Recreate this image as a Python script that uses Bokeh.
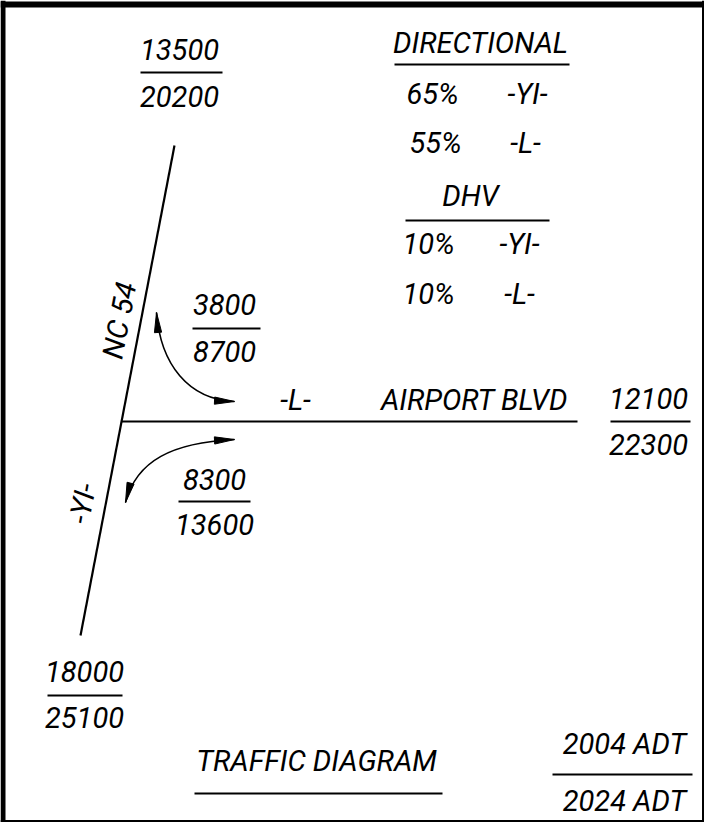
import numpy as np
from bokeh.plotting import figure
from bokeh.models import Range1d
from bokeh.core.properties import value
from bokeh.embed import file_html
from bokeh.resources import INLINE

# ---------------- data ----------------
legs = ["NC 54 north", "NC 54 south", "AIRPORT BLVD east", "left turn", "right turn"]
adt_2004 = [13500, 18000, 12100, 3800, 8300]
adt_2024 = [20200, 25100, 22300, 8700, 13600]

main_road = "NC 54"
main_tag = "-YI-"
side_road = "AIRPORT BLVD"
side_tag = "-L-"

dir_header = "DIRECTIONAL"
dir_pct = [65, 55]
dir_tags = ["-YI-", "-L-"]
dhv_header = "DHV"
dhv_pct = [10, 10]
dhv_tags = ["-YI-", "-L-"]

title = "TRAFFIC DIAGRAM"
key_labels = ["2004 ADT", "2024 ADT"]

# ---------------- layout (screen px of the page, text y = visual centre) ----------------
# per leg: centre x, centre y upper, centre y lower, rule y, rule x0, rule x1
leg_pos = [
    (187, 57, 104, 80, 148, 230),
    (92, 679, 725, 703, 55, 130),
    (656, 406, 452, 429, 618, 698),
    (232, 312, 359, 336, 200, 268),
    (222, 487, 532, 509, 186, 258),
]
main_ends = ((182, 153), (88, 643))
side_y, side_x1 = 429, 585
TOP, BOTTOM = 8, 830

FONT = value("Roboto")
FS = "29px"

p = figure(width=704, height=BOTTOM - TOP, x_range=Range1d(8, 712), y_range=Range1d(BOTTOM, TOP),
           output_backend="svg", toolbar_location=None, min_border=0,
           x_axis_type=None, y_axis_type=None, title=None)
p.grid.visible = False
p.outline_line_color = None
p.background_fill_color = "white"
p.border_fill_color = "white"

def txt(xs, ys, texts, align="center", angle=0.0):
    p.text(x=xs, y=ys, text=texts, text_font=FONT, text_font_style="italic",
           text_font_size=FS, text_align=align, text_baseline="middle",
           text_color="black", angle=angle, angle_units="deg")

def rule(x0, x1, y, w=2.2):
    p.segment(x0=[x0], y0=[y], x1=[x1], y1=[y], line_width=w, line_color="black")

# frame
p.segment(x0=[10.5], y0=[TOP], x1=[10.5], y1=[BOTTOM], line_width=5, line_color="black")
p.segment(x0=[8], y0=[12], x1=[712], y1=[12], line_width=6, line_color="black")
p.segment(x0=[710.5], y0=[TOP], x1=[710.5], y1=[BOTTOM], line_width=2, line_color="black")
p.segment(x0=[8], y0=[BOTTOM - 1.5], x1=[712], y1=[BOTTOM - 1.5], line_width=2, line_color="black")

# roads
(ax, ay), (bx, by) = main_ends
p.segment(x0=[ax], y0=[ay], x1=[bx], y1=[by], line_width=2.2, line_color="black")
jx = ax + (bx - ax) * (side_y - ay) / (by - ay)
rule(jx, side_x1, side_y)

# road labels rotated along NC 54
ang = np.degrees(np.arctan2(by - ay, ax - bx))  # screen angle of the line
txt([127], [328], [main_road], angle=ang)
txt([90], [511], [main_tag], angle=ang)
txt([303], [407], [side_tag])
txt([482], [407], [side_road])

# leg volumes
for i in range(len(legs)):
    cx, c1, c2, ry, rx0, rx1 = leg_pos[i]
    txt([cx], [c1], [str(adt_2004[i])])
    txt([cx], [c2], [str(adt_2024[i])])
    rule(rx0, rx1, ry)

# directional / DHV tables
txt([488], [50], [dir_header])
rule(402, 577, 72)
txt([440, 443], [101, 150], [f"{v}%" for v in dir_pct])
txt([535, 533], [101, 150], dir_tags)
txt([478], [203], [dhv_header])
rule(413, 557, 228)
txt([436, 436], [251, 301], [f"{v}%" for v in dhv_pct])
txt([527, 527], [251, 301], dhv_tags)

# title and key
txt([324], [768], [title])
rule(202, 450, 801)
txt([632, 632], [751, 808], key_labels)
rule(560, 700, 782)

# turning arrows (cubic curves + long narrow heads)
curves = [
    ((164, 320), (168, 372), (196, 407), (242, 409)),
    ((242, 447), (180, 450), (144, 468), (133, 510)),
]

def head(tip, frm, length=20.0, half=3.6):
    d = np.array(tip, float) - np.array(frm, float)
    d /= np.linalg.norm(d)
    n = np.array([-d[1], d[0]])
    base = np.array(tip, float) - d * length
    return ([tip[0], base[0] + n[0] * half, base[0] - n[0] * half],
            [tip[1], base[1] + n[1] * half, base[1] - n[1] * half])

hx, hy = [], []
for P0, P1, P2, P3 in curves:
    p.bezier(x0=[P0[0]], y0=[P0[1]], x1=[P3[0]], y1=[P3[1]],
             cx0=[P1[0]], cy0=[P1[1]], cx1=[P2[0]], cy1=[P2[1]],
             line_width=1.6, line_color="black")
    for tip, frm in ((P0, P1), (P3, P2)):
        a, b = head(tip, frm)
        hx.append(a)
        hy.append(b)
p.patches(xs=hx, ys=hy, fill_color="black", line_color="black", line_width=1)

open("out.html", "w").write(file_html(p, INLINE))
